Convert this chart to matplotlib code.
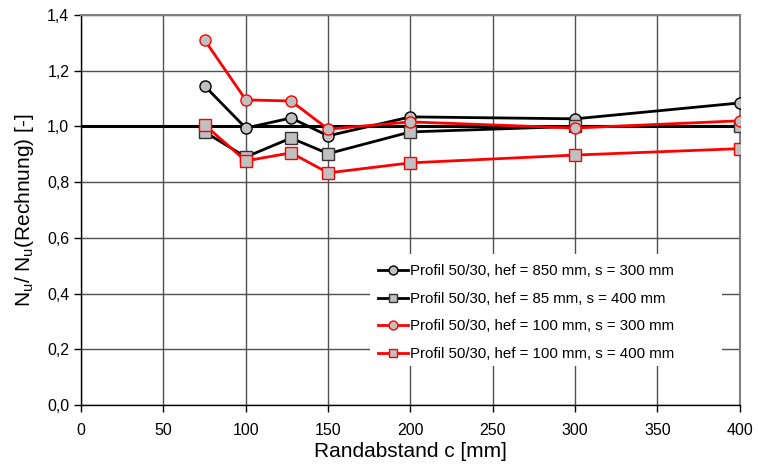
import matplotlib.pyplot as plt
from matplotlib.patches import Rectangle
from matplotlib.ticker import FuncFormatter, MultipleLocator

plt.rcParams['font.family'] = ['Liberation Sans', 'DejaVu Sans']

# Randabstand c [mm]
c = [75, 100, 127.5, 150, 200, 300, 400]

# Nu / Nu(Rechnung)
hef850_s300 = [1.145, 0.994, 1.030, 0.966, 1.034, 1.027, 1.084]
hef85_s400 = [0.980, 0.890, 0.958, 0.902, 0.980, 1.000, 1.000]
hef100_s300 = [1.310, 1.095, 1.091, 0.990, 1.016, 0.994, 1.020]
hef100_s400 = [1.005, 0.876, 0.905, 0.833, 0.869, 0.897, 0.920]

labels = [
    'Profil 50/30, hef = 850 mm, s = 300 mm',
    'Profil 50/30, hef = 85 mm, s = 400 mm',
    'Profil 50/30, hef = 100 mm, s = 300 mm',
    'Profil 50/30, hef = 100 mm, s = 400 mm',
]

fig = plt.figure(figsize=(7.58, 4.65), dpi=100)
ax = fig.add_axes([0.107, 0.129, 0.869, 0.839])

# Bezugslinie bei 1,0
ax.axhline(1.0, color='black', lw=2.2, zorder=2)

grau = '#c0c0c0'
ax.plot(c, hef850_s300, '-o', color='black', lw=2, ms=8, mfc=grau, mec='black', mew=1, label=labels[0], zorder=3)
ax.plot(c, hef85_s400, '-s', color='black', lw=2, ms=8, mfc=grau, mec='#333333', mew=1, label=labels[1], zorder=3)
ax.plot(c, hef100_s300, '-o', color='#ff0000', lw=2, ms=8, mfc=grau, mec='#ff0000', mew=1, label=labels[2], zorder=4)
ax.plot(c, hef100_s400, '-s', color='#ff0000', lw=2, ms=8, mfc=grau, mec='#ff0000', mew=1, label=labels[3], zorder=4)

ax.set_xlim(0, 400)
ax.set_ylim(0, 1.4)
ax.xaxis.set_major_locator(MultipleLocator(50))
ax.yaxis.set_major_locator(MultipleLocator(0.2))
ax.yaxis.set_major_formatter(FuncFormatter(lambda v, p: f'{v:.1f}'.replace('.', ',')))
ax.tick_params(direction='out', length=5, width=1, labelsize=11.5, color='black')
ax.tick_params(axis='x', pad=8)

ax.grid(True, color='#505050', lw=1, zorder=1)
for side in ['top', 'right']:
    ax.spines[side].set_color('#808080')
    ax.spines[side].set_linewidth(1.5)
for side in ['left', 'bottom']:
    ax.spines[side].set_color('black')
    ax.spines[side].set_linewidth(1)

ax.set_xlabel('Randabstand c [mm]', fontsize=15, labelpad=3)
ax.set_ylabel(r'N$_\mathregular{u}$/ N$_\mathregular{u}$(Rechnung) [-]', fontsize=15, labelpad=8)

# weisser Hintergrund der Legende (wie in Excel)
ax.add_patch(Rectangle((0.4385, 0.1), 0.535, 0.287, transform=ax.transAxes,
                       facecolor='white', edgecolor='none', zorder=2.5))

leg = ax.legend(loc='lower left', bbox_to_anchor=(0.451, 0.113), fontsize=10.8,
                frameon=False, handlelength=2.0, handletextpad=0.1, labelspacing=0.9,
                borderpad=0, borderaxespad=0, markerscale=0.8)
leg.set_zorder(5)

fig.savefig('out.png', dpi=100)
